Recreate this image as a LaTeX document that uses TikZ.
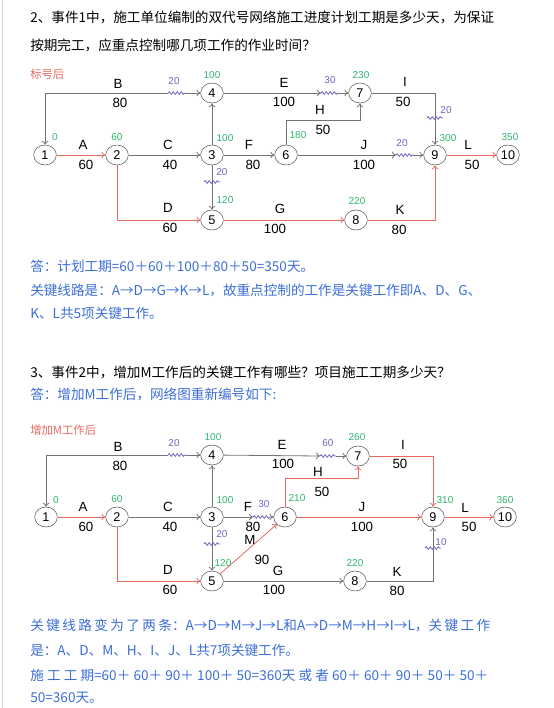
\documentclass[tikz,border=0pt]{standalone}
\usepackage{fontspec}
\setmainfont{Liberation Sans}
\newfontfamily\cjk{Noto Sans CJK SC}
\usetikzlibrary{positioning, arrows.meta, calc, shapes.geometric, decorations.pathmorphing}

\definecolor{critred}{RGB}{230,105,95}
\definecolor{earlygreen}{RGB}{45,180,110}
\definecolor{freepurple}{RGB}{115,100,185}
\definecolor{ansblue}{RGB}{60,110,215}
\definecolor{linegray}{RGB}{115,115,115}

% stretchable gap for justified lines
\newcommand{\gp}{\hskip 0pt plus 1fil}

\begin{document}
\begin{tikzpicture}[
  x=0.75pt, y=-0.75pt,
  font=\fontsize{10}{12}\selectfont,
  % Event circles
  event/.style={draw=black!65, ellipse, minimum width=17pt, minimum height=15pt, inner sep=0pt, fill=white, font=\fontsize{9.5}{11}\selectfont},
  % Labels on the arrows
  work/.style={inner sep=0pt},
  early/.style={text=earlygreen, inner sep=0pt, font=\fontsize{7.5}{9}\selectfont},
  free/.style={text=freepurple, inner sep=0pt, font=\fontsize{7.5}{9}\selectfont},
  % Text lines
  txt/.style={anchor=west, inner sep=0pt, font=\cjk\fontsize{10.2}{12}\selectfont},
  ans/.style={txt, text=ansblue},
  tag/.style={txt, text=critred, font=\cjk\fontsize{8.5}{10}\selectfont},
  % Arrows
  line/.style={draw=linegray, line width=0.6pt, -{To[length=3pt, width=5pt]}},
  crit/.style={line, draw=critred},
  back/.style={{To[length=3pt, width=5pt]}-},
  wave/.style={draw=freepurple, line width=0.6pt, decorate, decoration={snake, amplitude=1pt, segment length=3pt}}
]
  \useasboundingbox (0,0) rectangle (554,708);
  \draw[black!15, line width=0.8pt] (2.5,0) -- (2.5,708);

  % ==========================================
  % QUESTION 2
  % ==========================================
  \node[txt] (q2a) at (30,17) {2、事件1中，施工单位编制的双代号网络施工进度计划工期是多少天，为保证};
  \node[txt] (q2b) at (30,45) {按期完工，应重点控制哪几项工作的作业时间？};
  \node[tag] (tag1) at (30,74) {标号后};

  % Events
  \node[event] (s1_1) at (45,155) {1};
  \node[event] (s1_2) at (117,155) {2};
  \node[event] (s1_3) at (212,155) {3};
  \node[event] (s1_4) at (212,93) {4};
  \node[event] (s1_5) at (212,220) {5};
  \node[event] (s1_6) at (286,155) {6};
  \node[event] (s1_7) at (360,93) {7};
  \node[event] (s1_8) at (356,220) {8};
  \node[event] (s1_9) at (435,155) {9};
  \node[event] (s1_10) at (508,155) {10};

  % Wave ends
  \coordinate (b1w) at (168,93);  \coordinate (b1e) at (185,93);
  \coordinate (e1w) at (321,93);  \coordinate (e1e) at (338,93);
  \coordinate (j1w) at (396,155); \coordinate (j1e) at (413,155);
  \coordinate (h1)  at (360,120);
  \coordinate (w35) at (212,182);
  \coordinate (w79) at (435,118);

  % Arrows
  \draw[line, back] (s1_1) |- (b1w);
  \draw[wave] (b1w) -- (b1e);
  \draw[line] (b1e) -- (s1_4);
  \draw[crit] (s1_1) -- (s1_2);
  \draw[line] (s1_2) -- (s1_3);
  \draw[crit] (s1_2) |- (s1_5);
  \draw[line] (s1_3) -- (s1_4);
  \draw[line] (s1_3) -- (s1_5);
  \draw[wave] ($(w35)+(-8,0)$) -- ($(w35)+(8,0)$);
  \draw[line] (s1_3) -- (s1_6);
  \draw[line] (s1_4) -- (e1w);
  \draw[wave] (e1w) -- (e1e);
  \draw[line] (e1e) -- (s1_7);
  \draw[line] (s1_6) |- (h1) -- (s1_7);
  \draw[line] (s1_7) -| (s1_9);
  \draw[wave] ($(w79)+(-8,0)$) -- ($(w79)+(8,0)$);
  \draw[line] (s1_6) -- (j1w);
  \draw[wave] (j1w) -- (j1e);
  \draw[line] (j1e) -- (s1_9);
  \draw[crit] (s1_5) -- (s1_8);
  \draw[crit] (s1_8) -| (s1_9);
  \draw[crit] (s1_9) -- (s1_10);

  % Work names and durations
  \node[work] (w1_B) at (118,84) {B};   \node[work] (t1_B) at (120,103) {80};
  \node[work] (w1_A) at (83,145) {A};   \node[work] (t1_A) at (86,165) {60};
  \node[work] (w1_C) at (168,145) {C};  \node[work] (t1_C) at (170,165) {40};
  \node[work] (w1_D) at (168,208) {D};  \node[work] (t1_D) at (170,228) {60};
  \node[work] (w1_F) at (249,145) {F};  \node[work] (t1_F) at (253,165) {80};
  \node[work] (w1_E) at (284,83) {E};   \node[work] (t1_E) at (284,102) {100};
  \node[work] (w1_H) at (320,110) {H};  \node[work] (t1_H) at (323,130) {50};
  \node[work] (w1_I) at (405,82) {I};   \node[work] (t1_I) at (403,102) {50};
  \node[work] (w1_J) at (364,145) {J};  \node[work] (t1_J) at (364,165) {100};
  \node[work] (w1_G) at (280,209) {G};  \node[work] (t1_G) at (275,229) {100};
  \node[work] (w1_K) at (400,210) {K};  \node[work] (t1_K) at (399,230) {80};
  \node[work] (w1_L) at (468,145) {L};  \node[work] (t1_L) at (472,165) {50};

  % Earliest times and free floats
  \node[early] (es1_1) at (55,137) {0};
  \node[early] (es1_2) at (117,137) {60};
  \node[early] (es1_3) at (225,138) {100};
  \node[early] (es1_4) at (212,75) {100};
  \node[early] (es1_5) at (225,200) {120};
  \node[early] (es1_6) at (298,135) {180};
  \node[early] (es1_7) at (361,75) {230};
  \node[early] (es1_8) at (357,201) {220};
  \node[early] (es1_9) at (448,138) {300};
  \node[early] (es1_10) at (510,137) {350};
  \node[free] (ff1_B) at (174,81) {20};
  \node[free] (ff1_35) at (222,172) {20};
  \node[free] (ff1_E) at (330,80) {30};
  \node[free] (ff1_79) at (446,110) {20};
  \node[free] (ff1_J) at (402,143) {20};

  % Answer
  \node[ans] (a2a) at (30,266) {答：计划工期=60＋60＋100＋80＋50=350天。};
  \node[ans] (a2b) at (30,290) {关键线路是：A→D→G→K→L，故重点控制的工作是关键工作即A、D、G、};
  \node[ans] (a2c) at (30,313) {K、L共5项关键工作。};

  % ==========================================
  % QUESTION 3
  % ==========================================
  \node[txt] (q3) at (30,372) {3、事件2中，增加M工作后的关键工作有哪些？项目施工工期多少天？};
  \node[ans] (a3) at (30,394) {答：增加M工作后，网络图重新编号如下:};
  \node[tag] (tag2) at (30,430) {增加M工作后};

  % Events
  \node[event] (s2_1) at (46,517) {1};
  \node[event] (s2_2) at (117,517) {2};
  \node[event] (s2_3) at (212,517) {3};
  \node[event] (s2_4) at (212,455) {4};
  \node[event] (s2_5) at (212,581) {5};
  \node[event] (s2_6) at (285,517) {6};
  \node[event] (s2_7) at (358,456) {7};
  \node[event] (s2_8) at (355,581) {8};
  \node[event] (s2_9) at (433,517) {9};
  \node[event] (s2_10) at (505,517) {10};

  % Wave ends
  \coordinate (b2w) at (168,455); \coordinate (b2e) at (185,455);
  \coordinate (e2w) at (320,456); \coordinate (e2e) at (336,456);
  \coordinate (f2w) at (253,517); \coordinate (f2e) at (271,517);
  \coordinate (h2)  at (358,478);
  \coordinate (w35b) at (212,544);
  \coordinate (w89) at (433,548);

  % Arrows
  \draw[line, back] (s2_1) |- (b2w);
  \draw[wave] (b2w) -- (b2e);
  \draw[line] (b2e) -- (s2_4);
  \draw[crit] (s2_1) -- (s2_2);
  \draw[line] (s2_2) -- (s2_3);
  \draw[crit] (s2_2) |- (s2_5);
  \draw[line] (s2_3) -- (s2_4);
  \draw[line] (s2_3) -- (s2_5);
  \draw[wave] ($(w35b)+(-8,0)$) -- ($(w35b)+(8,0)$);
  \draw[line] (s2_3) -- (f2w);
  \draw[wave] (f2w) -- (f2e);
  \draw[line] (f2e) -- (s2_6);
  \draw[crit] (s2_5) -- (s2_6);
  \draw[line] (s2_5) -- (s2_8);
  \draw[line] (s2_4) -- (e2w);
  \draw[wave] (e2w) -- (e2e);
  \draw[line] (e2e) -- (s2_7);
  \draw[crit] (s2_6) |- (h2) -- (s2_7);
  \draw[crit] (s2_7) -| (s2_9);
  \draw[crit] (s2_6) -- (s2_9);
  \draw[line] (s2_8) -| (s2_9);
  \draw[wave] ($(w89)+(-8,0)$) -- ($(w89)+(8,0)$);
  \draw[crit] (s2_9) -- (s2_10);

  % Work names and durations
  \node[work] (w2_B) at (118,447) {B};  \node[work] (t2_B) at (120,466) {80};
  \node[work] (w2_A) at (83,507) {A};   \node[work] (t2_A) at (86,527) {60};
  \node[work] (w2_C) at (168,507) {C};  \node[work] (t2_C) at (170,527) {40};
  \node[work] (w2_D) at (168,570) {D};  \node[work] (t2_D) at (170,590) {60};
  \node[work] (w2_F) at (248,507) {F};  \node[work] (t2_F) at (253,527) {80};
  \node[work] (w2_M) at (250,540) {M};  \node[work] (t2_M) at (262,560) {90};
  \node[work] (w2_G) at (278,571) {G};  \node[work] (t2_G) at (274,590) {100};
  \node[work] (w2_E) at (282,445) {E};  \node[work] (t2_E) at (283,464) {100};
  \node[work] (w2_H) at (318,472) {H};  \node[work] (t2_H) at (322,492) {50};
  \node[work] (w2_I) at (403,445) {I};  \node[work] (t2_I) at (400,464) {50};
  \node[work] (w2_J) at (362,507) {J};  \node[work] (t2_J) at (362,527) {100};
  \node[work] (w2_K) at (397,572) {K};  \node[work] (t2_K) at (397,591) {80};
  \node[work] (w2_L) at (465,508) {L};  \node[work] (t2_L) at (469,527) {50};

  % Earliest times and free floats
  \node[early] (es2_1) at (56,500) {0};
  \node[early] (es2_2) at (117,499) {60};
  \node[early] (es2_3) at (225,500) {100};
  \node[early] (es2_4) at (213,437) {100};
  \node[early] (es2_5) at (223,563) {120};
  \node[early] (es2_6) at (297,498) {210};
  \node[early] (es2_7) at (357,437) {260};
  \node[early] (es2_8) at (355,563) {220};
  \node[early] (es2_9) at (445,500) {310};
  \node[early] (es2_10) at (505,500) {360};
  \node[free] (ff2_B) at (174,443) {20};
  \node[free] (ff2_35) at (222,534) {20};
  \node[free] (ff2_F) at (264,504) {30};
  \node[free] (ff2_E) at (328,443) {60};
  \node[free] (ff2_89) at (441,542) {10};

  % Answer
  \node[ans] (a3a) at (30,625) {\hbox to 345pt{关\gp 键\gp 线\gp 路\gp 变\gp 为\gp 了\gp 两\gp 条：A→D→M→J→L和A→D→M→H→I→L，关\gp 键\gp 工\gp 作}};
  \node[ans] (a3b) at (30,650) {是：A、D、M、H、I、J、L共7项关键工作。};
  \node[ans] (a3c) at (30,675) {\hbox to 343.5pt{施\gp 工\gp 工\gp 期=60＋\gp 60＋\gp 90＋\gp 100＋\gp 50=360天\gp 或\gp 者\gp 60＋\gp 60＋\gp 90＋\gp 50＋\gp 50＋}};
  \node[ans] (a3d) at (30,698) {50=360天。};

\end{tikzpicture}
\end{document}
